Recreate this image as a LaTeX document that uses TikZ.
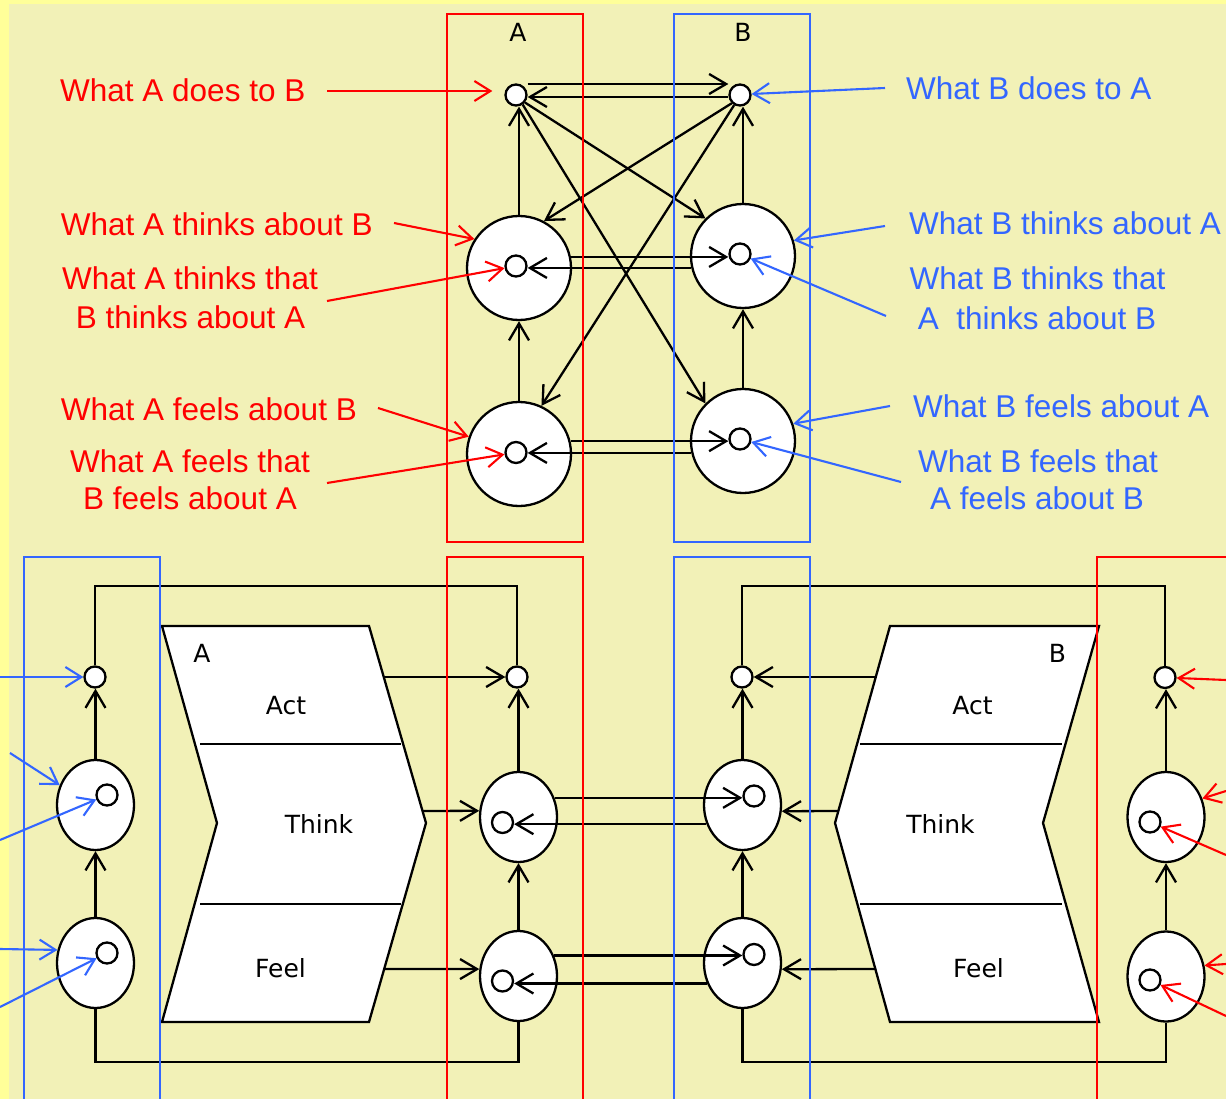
\documentclass[tikz,border=0pt]{standalone}
\usepackage{fontspec}
\setmainfont{Liberation Sans}
\newfontfamily\dv{DejaVu Sans}
\usetikzlibrary{arrows.meta,shapes.geometric}
\definecolor{bgout}{RGB}{255,255,153}
\definecolor{bgin}{RGB}{242,241,183}
\definecolor{myred}{RGB}{255,0,0}
\definecolor{myblue}{RGB}{51,102,255}
\tikzset{
  blk/.style={line width=2.3pt, draw=black},
  arr/.style={blk, -{Straight Barb[length=17pt,width=20pt]}},
  rarr/.style={line width=2.1pt, draw=myred, -{Straight Barb[length=16pt,width=20pt]}},
  barr/.style={line width=2.1pt, draw=myblue, -{Straight Barb[length=16pt,width=20pt]}},
  big/.style={circle, draw, line width=2.3pt, fill=white, minimum size=104pt, inner sep=0pt},
  dot/.style={circle, draw, line width=2.3pt, fill=white, minimum size=21pt, inner sep=0pt},
  ell/.style={ellipse, draw, line width=2.3pt, fill=white, minimum width=77pt, minimum height=90pt, inner sep=0pt},
  rlab/.style={text=myred, font=\fontsize{31.5}{38}\selectfont, inner sep=0pt},
  blab/.style={text=myblue, font=\fontsize{31.5}{38}\selectfont, inner sep=0pt},
  boxlab/.style={font=\dv\fontsize{25}{30}\selectfont, inner sep=0pt},
  chev/.style={draw, line width=2.3pt, fill=white, line join=miter},
  rframe/.style={draw=myred, line width=1.6pt},
  bframe/.style={draw=myblue, line width=1.6pt},
}
\begin{document}
\begin{tikzpicture}[x=1pt,y=-1pt]
\useasboundingbox (0,0) rectangle (1226,1099);
\clip (0,0) rectangle (1226,1099);
\fill[bgout] (0,0) rectangle (1226,1099);
\fill[bgin] (9,4) rectangle (1226,1099);

% ===== TOP DIAGRAM =====
\node[boxlab, anchor=base] (labA) at (518,42) {A};
\node[boxlab, anchor=base] (labB) at (743,42) {B};

\node[big] (tAthink) at (519,268) {};
\node[big] (tBthink) at (743,256) {};
\node[big] (tAfeel) at (519,454) {};
\node[big] (tBfeel) at (743,441) {};
\node[dot] (tAact) at (516,95) {};
\node[dot] (tBact) at (740,95) {};
\node[dot] (tAtin) at (516,266) {};
\node[dot] (tBtin) at (740,254) {};
\node[dot] (tAfin) at (516,452.5) {};
\node[dot] (tBfin) at (740,439) {};

\draw[arr] ([yshift=11pt]tAact.east) -- ([yshift=11pt]tBact.west);
\draw[arr] ([yshift=-2pt]tBact.west) -- ([yshift=-2pt]tAact.east);
\draw[arr] (tAthink.12) -- (tAthink.12 -| tBtin.west);
\draw[arr] (tBthink.193) -- (tBthink.193 -| tAtin.east);
\draw[arr] (tAfeel.14) -- (tAfeel.14 -| tBfin.west);
\draw[arr] (tBfeel.193) -- (tBfeel.193 -| tAfin.east);
\draw[arr] (tAthink.north) -- (tAthink.north |- tAact.south);
\draw[arr] (tAfeel.north) -- (tAfeel.north |- tAthink.south);
\draw[arr] (tBthink.north) -- (tBthink.north |- tBact.south);
\draw[arr] (tBfeel.north) -- (tBfeel.north |- tBthink.south);
\draw[arr] (tAact.-40) -- (tBthink.135);
\draw[arr] (tAact.-55) -- (tBfeel.135);
\draw[arr] (tBact.-135) -- (tAthink.62);
\draw[arr] (tBact.-120) -- (tAfeel.65);

% red labels
\node[rlab, anchor=base west] (r1) at (60,101.5) {What A does to B};
\node[rlab, anchor=base west] (r2) at (60.7,236) {What A thinks about B};
\node[rlab, anchor=base] (r3a) at (190,290) {What A thinks that};
\node[rlab, anchor=base] (r3b) at (190.5,328) {B thinks about A};
\node[rlab, anchor=base west] (r4) at (60.7,420) {What A feels about B};
\node[rlab, anchor=base] (r5a) at (190,472) {What A feels that};
\node[rlab, anchor=base] (r5b) at (190,509) {B feels about A};
\coordinate (r1s) at (327,91);
\coordinate (r2s) at (394,223);
\coordinate (r3s) at (327,301);
\coordinate (r4s) at (378,408);
\coordinate (r5s) at (327,483);
\draw[rarr, shorten >=12pt] (r1s) -- (r1s -| tAact.west);
\draw[rarr] (r2s) -- (tAthink.147);
\draw[rarr] (r3s) -- (tAtin);
\draw[rarr] (r4s) -- (tAfeel.161);
\draw[rarr] (r5s) -- (tAfin);

% blue labels
\node[blab, anchor=base west] (b1) at (906,100) {What B does to A};
\node[blab, anchor=base west] (b2) at (909,235) {What B thinks about A};
\node[blab, anchor=base] (b3a) at (1037.5,290) {What B thinks that};
\node[blab, anchor=base] (b3b) at (1037,329) {A\ \ thinks about B};
\node[blab, anchor=base west] (b4) at (913,417) {What B feels about A};
\node[blab, anchor=base] (b5a) at (1038,472) {What B feels that};
\node[blab, anchor=base] (b5b) at (1037,509) {A feels about B};
\coordinate (b1s) at (885,88);
\coordinate (b2s) at (885,226);
\coordinate (b3s) at (886,316);
\coordinate (b4s) at (890,406);
\coordinate (b5s) at (901,482);
\draw[barr] (b1s) -- (tBact.5);
\draw[barr] (b2s) -- (tBthink.17);
\draw[barr] (b3s) -- (tBtin);
\draw[barr] (b4s) -- (tBfeel.19);
\draw[barr] (b5s) -- (tBfin);

% ===== BOTTOM DIAGRAM =====
% chevron boxes
\draw[chev] (162,626) -- (369,626) -- (426,823) -- (369,1022) -- (162,1022) -- (217,823) -- cycle;
\draw[blk] (200,744) -- (401,744);
\draw[blk] (200,904) -- (401,904);
\node[boxlab, anchor=base] (cA) at (202,662) {A};
\node[boxlab, anchor=base] (cAact) at (286,714.5) {Act};
\node[boxlab, anchor=base] (cAthink) at (319,833.5) {Think};
\node[boxlab, anchor=base] (cAfeel) at (280.5,977) {Feel};

\draw[chev] (890,626) -- (1099,626) -- (1043,823) -- (1099,1022) -- (890,1022) -- (835,823) -- cycle;
\draw[blk] (860,744) -- (1062,744);
\draw[blk] (860,904) -- (1062,904);
\node[boxlab, anchor=base] (cB) at (1057.5,662) {B};
\node[boxlab, anchor=base] (cBact) at (972.5,714.5) {Act};
\node[boxlab, anchor=base] (cBthink) at (940.5,833.5) {Think};
\node[boxlab, anchor=base] (cBfeel) at (978.5,977) {Feel};

% columns
\node[dot] (lAct) at (95,677) {};
\node[ell] (lThink) at (95.5,805) {};
\node[ell] (lFeel) at (95.5,963) {};
\node[dot] (lTin) at (107,795) {};
\node[dot] (lFin) at (107,953) {};

\node[dot] (aAct) at (517,677) {};
\node[ell] (aThink) at (518.5,817) {};
\node[ell] (aFeel) at (518.5,976) {};
\node[dot] (aTin) at (502.5,822.5) {};
\node[dot] (aFin) at (502.5,981) {};

\node[dot] (bAct) at (742,677) {};
\node[ell] (bThink) at (742.5,805) {};
\node[ell] (bFeel) at (742.5,963) {};
\node[dot] (bTin) at (754,796) {};
\node[dot] (bFin) at (754,954.5) {};

\node[dot] (rAct) at (1165,677.5) {};
\node[ell] (rThink) at (1166,817) {};
\node[ell] (rFeel) at (1166,976.5) {};
\node[dot] (rTin) at (1150,822) {};
\node[dot] (rFin) at (1150,980) {};

\coordinate (topY) at (0,586);
\coordinate (botY) at (0,1062);
\draw[blk] (lAct.north) |- (aAct.north |- topY) -- (aAct.north);
\draw[blk] (lFeel.south) |- (aFeel.south |- botY) -- (aFeel.south);
\draw[blk] (bAct.north) |- (rAct.north |- topY) -- (rAct.north);
\draw[blk] (bFeel.south) |- (rFeel.south |- botY) -- (rFeel.south);

\draw[arr] (lThink.north) -- (lThink.north |- lAct.south);
\draw[arr] (lFeel.north) -- (lFeel.north |- lThink.south);
\draw[arr] (aThink.north) -- (aThink.north |- aAct.south);
\draw[arr] (aFeel.north) -- (aFeel.north |- aThink.south);
\draw[arr] (bThink.north) -- (bThink.north |- bAct.south);
\draw[arr] (bFeel.north) -- (bFeel.north |- bThink.south);
\draw[arr] (rThink.north) -- (rThink.north |- rAct.south);
\draw[arr] (rFeel.north) -- (rFeel.north |- rThink.south);

% box to columns
\coordinate (AbAct) at (384,677);
\coordinate (AbThink) at (423,811);
\coordinate (AbFeel) at (384,969);
\draw[arr] (AbAct) -- (aAct);
\draw[arr] (AbThink) -- (aThink.171);
\draw[arr] (AbFeel) -- (aFeel.170);
\coordinate (BbAct) at (876,677);
\coordinate (BbThink) at (838,811);
\coordinate (BbFeel) at (876,969);
\draw[arr] (BbAct) -- (bAct);
\draw[arr] (BbThink) -- (bThink.-9);
\draw[arr] (BbFeel) -- (bFeel.-9);

% A <-> B
\draw[arr] (aThink.28) -- (aThink.28 -| bTin.west);
\draw[arr] (bThink.208) -- (bThink.208 -| aTin.east);
\draw[arr] (aFeel.30) -- (aFeel.30 -| bFin.west);
\draw[arr] (bFeel.210) -- (bFeel.210 -| aFin.east);

% outside arrows
\coordinate (e1) at (0,677);
\coordinate (e2) at (10,753);
\coordinate (e3) at (0,840);
\coordinate (e4) at (0,949);
\coordinate (e5) at (0,1007);
\draw[barr] (e1) -- (lAct);
\draw[barr] (e2) -- (lThink.151);
\draw[barr] (e3) -- (lTin);
\draw[barr] (e4) -- (lFeel.161);
\draw[barr] (e5) -- (lFin);
\coordinate (f1) at (1226,680);
\coordinate (f2) at (1226,791);
\coordinate (f3) at (1226,855);
\coordinate (f4) at (1226,964);
\coordinate (f5) at (1226,1016);
\draw[rarr] (f1) -- (rAct);
\draw[rarr] (f2) -- (rThink.27);
\draw[rarr] (f3) -- (rTin);
\draw[rarr] (f4) -- (rFeel.16);
\draw[rarr] (f5) -- (rFin);

% frames
\draw[rframe] (447,14) rectangle (583,542);
\draw[bframe] (674,14) rectangle (810,542);
\draw[bframe] (24,557) rectangle (160,1130);
\draw[rframe] (447,557) rectangle (583,1130);
\draw[bframe] (674,557) rectangle (810,1130);
\draw[rframe] (1097,557) rectangle (1250,1130);
\end{tikzpicture}
\end{document}
